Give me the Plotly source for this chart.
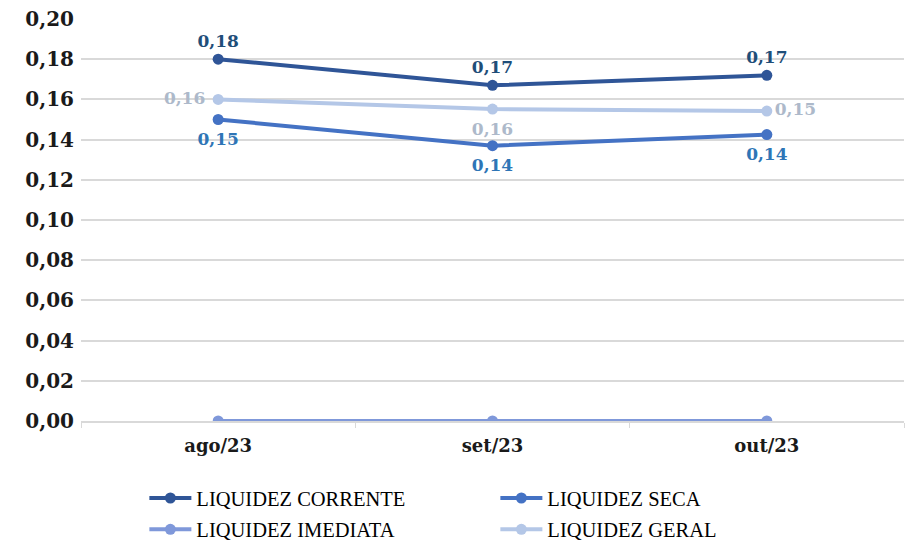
import plotly.graph_objects as go

categories = ["ago/23", "set/23", "out/23"]
corrente = [0.180, 0.167, 0.172]
seca = [0.150, 0.137, 0.1425]
imediata = [0.0, 0.0, 0.0]
geral = [0.160, 0.1552, 0.1542]
y_ticks = [0.00, 0.02, 0.04, 0.06, 0.08, 0.10, 0.12, 0.14, 0.16, 0.18, 0.20]

def fmt(v):
    return f"{v:.2f}".replace(".", ",")

label_font = "DejaVu Serif"
fig = go.Figure()

fig.add_trace(go.Scatter(
    x=categories, y=corrente, name="LIQUIDEZ CORRENTE", mode="lines+markers+text",
    line=dict(color="#2F5597", width=4), marker=dict(size=11, color="#2F5597"),
    text=[fmt(v) for v in corrente], textposition="top center",
    textfont=dict(family=label_font, size=17, color="#1F4E79", weight="bold"),
    legend="legend", hoverinfo="skip",
))
fig.add_trace(go.Scatter(
    x=categories, y=seca, name="LIQUIDEZ SECA", mode="lines+markers",
    line=dict(color="#4472C4", width=4), marker=dict(size=11, color="#4472C4"),
    legend="legend", hoverinfo="skip",
))
fig.add_trace(go.Scatter(
    x=categories, y=imediata, name="LIQUIDEZ IMEDIATA", mode="lines+markers",
    line=dict(color="#7F98DA", width=4), marker=dict(size=11, color="#7F98DA"),
    legend="legend2", hoverinfo="skip",
))
fig.add_trace(go.Scatter(
    x=categories, y=geral, name="LIQUIDEZ GERAL", mode="lines+markers",
    line=dict(color="#B4C7E7", width=4), marker=dict(size=11, color="#B4C7E7"),
    legend="legend2", hoverinfo="skip",
))

# data labels (transparent markers only set the label offset)
fig.add_trace(go.Scatter(
    x=categories, y=seca, mode="markers+text", showlegend=False, hoverinfo="skip",
    marker=dict(size=19, opacity=0),
    text=[fmt(v) for v in seca], textposition="bottom center",
    textfont=dict(family=label_font, size=17, color="#2E75B6", weight="bold"),
))
fig.add_trace(go.Scatter(
    x=categories, y=geral, mode="markers+text", showlegend=False, hoverinfo="skip",
    marker=dict(size=[19, 19, 11], opacity=0),
    text=[fmt(v) for v in geral],
    textposition=["middle left", "bottom center", "middle right"],
    textfont=dict(family=label_font, size=17, color="#ADB9CA", weight="bold"),
))

leg_common = dict(
    orientation="h", x=0.077, xanchor="left", yanchor="middle",
    entrywidth=294, entrywidthmode="pixels",
    font=dict(family="Liberation Serif", size=20.5, color="#000000"),
    traceorder="normal", itemwidth=42, borderwidth=0, bgcolor="rgba(0,0,0,0)",
)

fig.update_layout(
    width=910, height=542,
    margin=dict(l=81, r=6, t=19, b=121, autoexpand=False),
    paper_bgcolor="white", plot_bgcolor="white",
    showlegend=True,
    legend=dict(y=-0.192, **leg_common),
    legend2=dict(y=-0.270, **leg_common),
    xaxis=dict(
        type="category", range=[-0.5, 2.5], automargin=False,
        showgrid=False, showline=True, linecolor="#D9D9D9", linewidth=1.5,
        ticks="outside", tickson="boundaries", ticklen=5, tickcolor="#D9D9D9",
        ticklabelstandoff=8,
        tickfont=dict(family=label_font, size=18, color="#1A1A1A", weight="bold"),
    ),
    yaxis=dict(
        range=[0, 0.20], tickvals=y_ticks, ticktext=[fmt(v) for v in y_ticks],
        automargin=False,
        showgrid=True, gridcolor="#D9D9D9", gridwidth=1.5, zeroline=False,
        showline=False, ticks="", ticklabelstandoff=6,
        tickfont=dict(family=label_font, size=20, color="#1A1A1A", weight="bold"),
    ),
)

fig.write_html(
    "out.html",
    config={"displayModeBar": False},
    post_script="document.body.style.margin='0';document.body.style.overflow='hidden';",
)
